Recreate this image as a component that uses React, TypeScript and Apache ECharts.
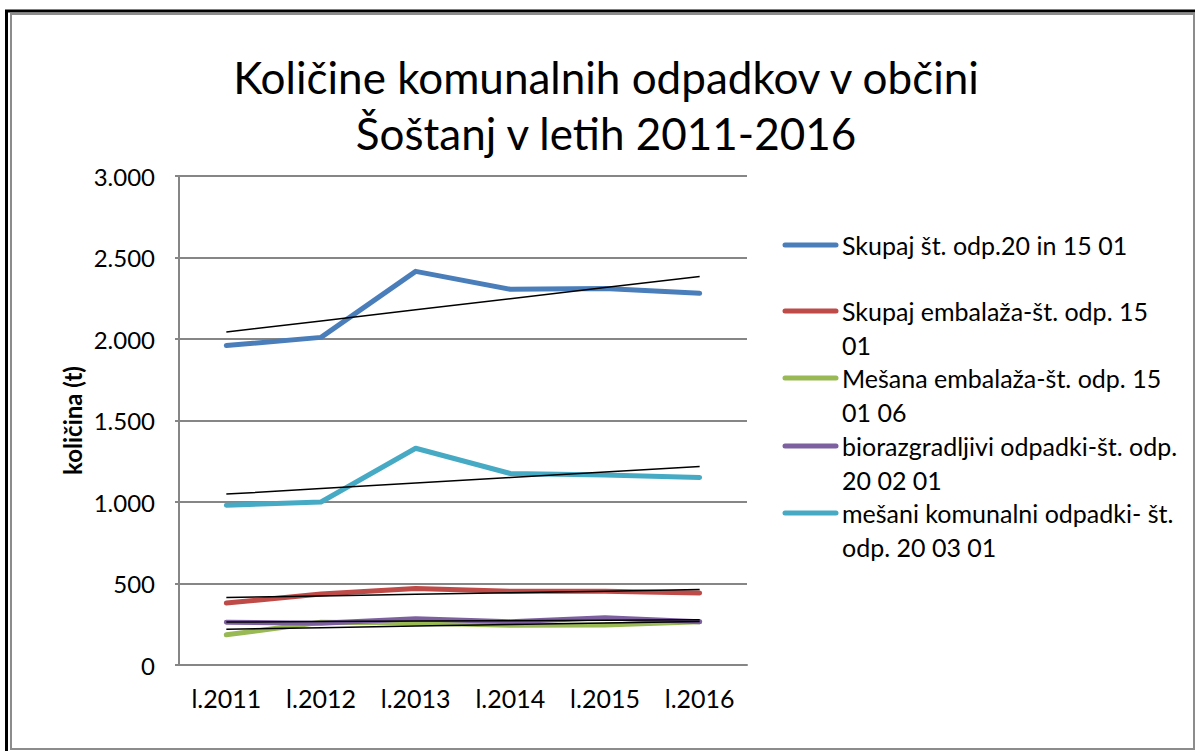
import React, { useEffect, useRef } from "react";
import * as echarts from "echarts";

const categories = ["l.2011", "l.2012", "l.2013", "l.2014", "l.2015", "l.2016"];
const seriesNames = [
  "Skupaj št. odp.20 in 15 01",
  "Skupaj embalaža-št. odp. 15 01",
  "Mešana embalaža-št. odp. 15 01 06",
  "biorazgradljivi odpadki-št. odp. 20 02 01",
  "mešani komunalni odpadki- št. odp. 20 03 01",
];
const legendLabels = [
  "Skupaj št. odp.20 in 15 01",
  "Skupaj embalaža-št. odp. 15\n01",
  "Mešana embalaža-št. odp. 15\n01 06",
  "biorazgradljivi odpadki-št. odp.\n20 02 01",
  "mešani komunalni odpadki- št.\nodp. 20 03 01",
];
const skupaj = [1960, 2010, 2415, 2305, 2310, 2280];
const embalaza = [380, 435, 470, 452, 452, 442];
const mesanaEmbalaza = [185, 262, 258, 244, 246, 265];
const bioOdpadki = [262, 256, 284, 266, 290, 266];
const mesaniKomunalni = [980, 1000, 1330, 1175, 1165, 1150];
const seriesData = [skupaj, embalaza, mesanaEmbalaza, bioOdpadki, mesaniKomunalni];
const colors = ["#4A7EBB", "#BE4B48", "#98B954", "#7D60A0", "#46AAC5"];
const yTicks = [0, 500, 1000, 1500, 2000, 2500, 3000];

function linearTrend(values: number[]): number[] {
  const n = values.length;
  const xs = values.map((_, i) => i + 1);
  const mx = xs.reduce((a, b) => a + b, 0) / n;
  const my = values.reduce((a, b) => a + b, 0) / n;
  let num = 0;
  let den = 0;
  for (let i = 0; i < n; i++) {
    num += (xs[i] - mx) * (values[i] - my);
    den += (xs[i] - mx) * (xs[i] - mx);
  }
  const slope = num / den;
  return xs.map((x) => my + slope * (x - mx));
}

const FONT = "Lato, 'Open Sans', sans-serif";

export default function App() {
  const ref = useRef<HTMLDivElement>(null);
  useEffect(() => {
    if (!ref.current) return;
    const chart = echarts.init(ref.current, undefined, { renderer: "svg" });
    const legendTops = [245, 311, 378, 446, 513];
    const graphic: any[] = [
      { type: "rect", shape: { x: 11, y: 14, width: 1183, height: 735 }, style: { fill: "none", stroke: "#8c8c8c", lineWidth: 2 }, silent: true },
      { type: "line", shape: { x1: 6.5, y1: 10, x2: 6.5, y2: 751 }, style: { stroke: "#000", lineWidth: 3 }, silent: true },
      { type: "line", shape: { x1: 5, y1: 11, x2: 1195, y2: 11 }, style: { stroke: "#000", lineWidth: 3 }, silent: true },
    ];
    legendLabels.forEach((label, i) => {
      graphic.push({
        type: "line",
        shape: { x1: 785, y1: legendTops[i], x2: 836, y2: legendTops[i] },
        style: { stroke: colors[i], lineWidth: 5, lineCap: "round" },
      });
      graphic.push({
        type: "text",
        x: 842,
        y: legendTops[i] - 17,
        style: {
          text: label,
          fill: "#000",
          fontSize: 25,
          fontFamily: FONT,
          lineHeight: 34,
          verticalAlign: "top",
          textAlign: "left",
        },
      });
    });

    const series: any[] = [];
    seriesData.forEach((d, i) => {
      series.push({
        name: seriesNames[i],
        type: "line",
        data: d,
        symbol: "none",
        lineStyle: { color: colors[i], width: 5, cap: "round", join: "round" },
        itemStyle: { color: colors[i] },
        z: 2,
      });
    });
    seriesData.forEach((d, i) => {
      series.push({
        name: "trend " + i,
        type: "line",
        data: linearTrend(d),
        symbol: "none",
        lineStyle: { color: "#000", width: 1.5 },
        z: 3,
      });
    });

    chart.setOption({
      animation: false,
      backgroundColor: "#fff",
      title: {
        text: "Količine komunalnih odpadkov v občini\nŠoštanj v letih 2011-2016",
        left: 601,
        top: 44,
        textAlign: "center",
        textStyle: {
          fontFamily: FONT,
          fontSize: 44,
          fontWeight: "normal",
          lineHeight: 56,
          color: "#000",
        },
      },
      grid: { left: 179, top: 176, width: 568, height: 489 },
      xAxis: {
        type: "category",
        data: categories,
        boundaryGap: true,
        axisLine: { lineStyle: { color: "#868686", width: 2 } },
        axisTick: { show: false },
        axisLabel: { color: "#000", fontSize: 25, fontFamily: FONT, margin: 20 },
      },
      yAxis: {
        type: "value",
        min: 0,
        max: 3000,
        interval: 500,
        name: "količina (t)",
        nameLocation: "middle",
        nameGap: 95,
        nameTextStyle: { fontFamily: FONT, fontSize: 24, fontWeight: "bold", color: "#000" },
        axisLine: { show: true, lineStyle: { color: "#868686", width: 2 } },
        axisTick: { show: true, length: 4, lineStyle: { color: "#868686", width: 2 } },
        splitLine: { lineStyle: { color: "#868686", width: 2 } },
        axisLabel: {
          color: "#000",
          fontSize: 24,
          fontFamily: FONT,
          margin: 24,
          formatter: (v: number) => (yTicks.includes(v) ? v.toLocaleString("de-DE") : ""),
        },
      },
      series,
      graphic,
    });
    return () => chart.dispose();
  }, []);
  return (
    <div
      ref={ref}
      style={{ position: "fixed", left: 0, top: 0, width: 1195, height: 751 }}
    />
  );
}
